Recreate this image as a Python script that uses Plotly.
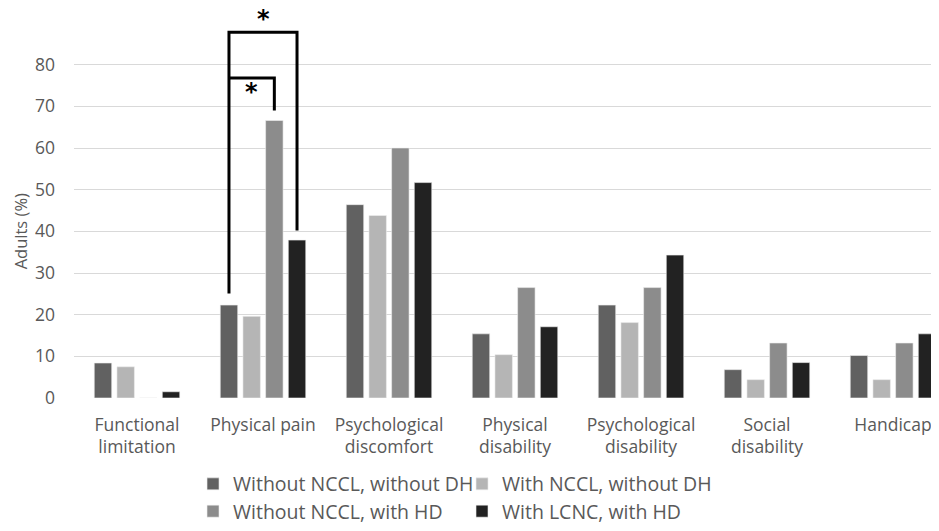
import plotly.graph_objects as go

categories = ["Functional<br>limitation", "Physical pain", "Psychological<br>discomfort",
              "Physical<br>disability", "Psychological<br>disability", "Social<br>disability", "Handicap"]
series_names = ["Without NCCL, without DH", "With NCCL, without DH",
                "Without NCCL, with HD", "With LCNC, with HD"]
without_nccl_without_dh = [8.4, 22.3, 46.4, 15.4, 22.3, 6.8, 10.2]
with_nccl_without_dh = [7.5, 19.6, 43.8, 10.4, 18.1, 4.4, 4.4]
without_nccl_with_hd = [0, 66.6, 60.0, 26.5, 26.5, 13.2, 13.2]
with_lcnc_with_hd = [1.5, 37.9, 51.7, 17.1, 34.3, 8.5, 15.4]
y_ticks = [0, 10, 20, 30, 40, 50, 60, 70, 80]

colors = ["#616161", "#b5b5b5", "#8c8c8c", "#222222"]
values = [without_nccl_without_dh, with_nccl_without_dh, without_nccl_with_hd, with_lcnc_with_hd]
legends = ["legend", "legend", "legend2", "legend2"]

FONT = "Open Sans, Liberation Sans, sans-serif"
TXT = "#595959"

fig = go.Figure()
for name, vals, col, lg in zip(series_names, values, colors, legends):
    fig.add_trace(go.Bar(x=list(range(len(categories))), y=vals, name=name,
                         marker=dict(color=col, line=dict(color="#eeeeee", width=0.6)),
                         legend=lg))

# significance brackets (Physical pain group, index 1)
gw = 0.72 / 4
dark_x = 1 - 1.5 * gw
mid_x = 1 + 0.5 * gw
black_x = 1 + 1.5 * gw
line = dict(color="black", width=3)
fig.add_shape(type="path", xref="x", yref="y",
              path=f"M {dark_x},25.1 L {dark_x},87.8 L {black_x},87.8 L {black_x},40.2",
              line=line)
fig.add_shape(type="path", xref="x", yref="y",
              path=f"M {dark_x},76.8 L {mid_x},76.8 L {mid_x},69.0",
              line=line)
star_font = dict(size=24, color="black", family="DejaVu Sans")
fig.add_annotation(x=(dark_x + black_x) / 2, y=91.0, text="<b>*</b>", showarrow=False,
                   font=star_font, yanchor="middle")
fig.add_annotation(x=(dark_x + mid_x) / 2, y=73.4, text="<b>*</b>", showarrow=False,
                   font=star_font, yanchor="middle")

# y-axis title
fig.add_annotation(xref="paper", x=0, xshift=-54, xanchor="center", y=40, yref="y",
                   yanchor="middle", text="Adults (%)", textangle=-90, showarrow=False,
                   font=dict(size=16.5, color=TXT, family=FONT))

fig.update_layout(
    width=931, height=523,
    margin=dict(l=66, r=0, t=0, b=130.7),
    plot_bgcolor="white", paper_bgcolor="white",
    barmode="group", bargap=0.28, bargroupgap=0.23,
    font=dict(family=FONT, color=TXT, size=17),
    xaxis=dict(tickmode="array", tickvals=list(range(len(categories))), ticktext=categories,
               range=[-0.5, -0.5 + 865 / 126], showgrid=False, zeroline=False,
               showline=False, ticks="", ticklabelstandoff=14, automargin=False,
               tickfont=dict(size=17.5, color=TXT)),
    yaxis=dict(range=[0, 93.6], tickvals=y_ticks, showgrid=True, gridcolor="#d9d9d9",
               gridwidth=1, zeroline=False, showline=False, ticks="", automargin=False,
               ticklabelstandoff=18, tickfont=dict(size=17.5, color=TXT)),
    legend=dict(orientation="h", x=0.1376, xanchor="left", y=-0.221, yanchor="middle",
                entrywidth=224, font=dict(size=19.5, color=TXT), bgcolor="rgba(0,0,0,0)"),
    legend2=dict(orientation="h", x=0.1376, xanchor="left", y=-0.2924, yanchor="middle",
                 entrywidth=224, font=dict(size=19.5, color=TXT), bgcolor="rgba(0,0,0,0)"),
)

fig.write_html("out.html")
